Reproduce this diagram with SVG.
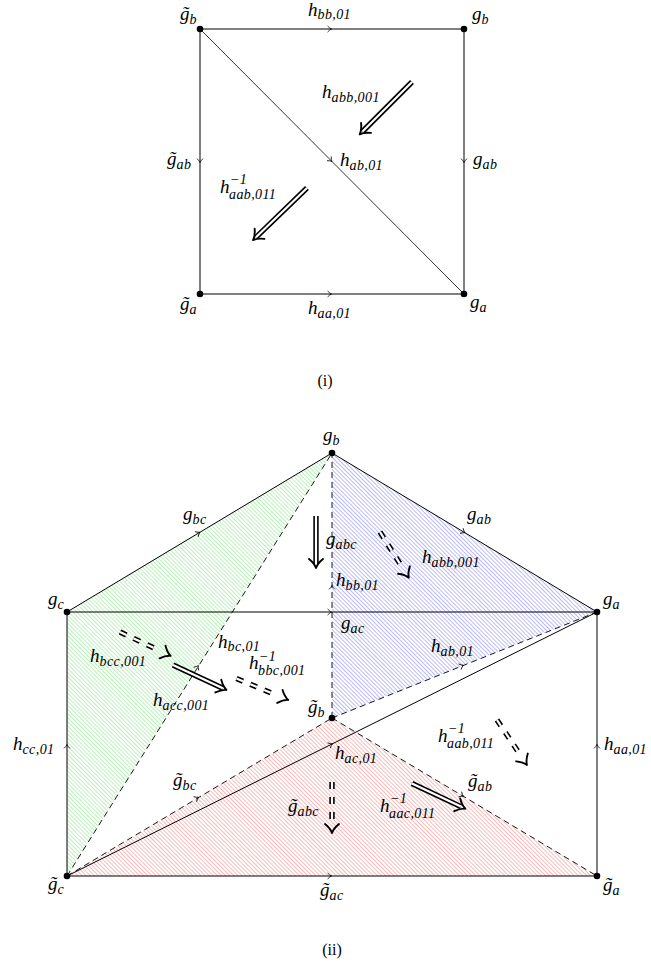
<svg xmlns="http://www.w3.org/2000/svg" width="651" height="972" viewBox="0 0 651 972">
<style>
.m{font-family:"Liberation Serif",serif;font-style:italic;font-size:19px;fill:#000}
.s{font-size:14px;letter-spacing:0.4px}
.cap{font-family:"Liberation Serif",serif;font-size:16px;fill:#000}
.e{stroke:#000;stroke-width:1;fill:none}
.d{stroke:#000;stroke-width:0.9;fill:none;stroke-dasharray:6,4}
.thin{stroke:#000;stroke-width:0.8;fill:none}
.dbo{stroke:#000;stroke-width:5.4;fill:none}
.dbi{stroke:#fff;stroke-width:2.2;fill:none}
.dbod{stroke:#000;stroke-width:5.4;fill:none;stroke-dasharray:7,8}
.dbid{stroke:#fff;stroke-width:2.2;fill:none;stroke-dasharray:7,8}
.hd{stroke:#000;stroke-width:1.9;fill:none;stroke-linecap:round;stroke-linejoin:round}
</style>
<defs>
<path id="tip" d="M-3.4,-3 Q-1.2,-0.6 0.6,0 Q-1.2,0.6 -3.4,3" fill="none" stroke="#000" stroke-width="0.8"/>
<pattern id="hg" width="2.9" height="10" patternUnits="userSpaceOnUse" patternTransform="rotate(-45)"><line x1="1.45" y1="0" x2="1.45" y2="10" stroke="#b4eeb4" stroke-width="0.9"/></pattern>
<pattern id="hb" width="2.9" height="10" patternUnits="userSpaceOnUse" patternTransform="rotate(-45)"><line x1="1.45" y1="0" x2="1.45" y2="10" stroke="#b4b4f2" stroke-width="0.9"/></pattern>
<pattern id="hr" width="2.9" height="10" patternUnits="userSpaceOnUse" patternTransform="rotate(-45)"><line x1="1.45" y1="0" x2="1.45" y2="10" stroke="#f4b4b4" stroke-width="0.9"/></pattern>
</defs>
<rect width="651" height="972" fill="#fff"/>

<!-- ===== Diagram (i) ===== -->
<g id="connectors-i">
<line class="e" x1="200" y1="29" x2="464" y2="29"/>
<use href="#tip" transform="translate(331,29)"/>
<text class="m" x="308" y="16">h<tspan class="s" dy="3">bb,01</tspan></text>
<line class="e" x1="200" y1="29" x2="200" y2="294"/>
<use href="#tip" transform="translate(200,162) rotate(90)"/>
<text class="m" x="167" y="165">g̃<tspan class="s" dy="4">ab</tspan></text>
<line class="e" x1="464" y1="29" x2="464" y2="294"/>
<use href="#tip" transform="translate(464,162) rotate(90)"/>
<text class="m" x="473" y="165">g<tspan class="s" dy="4">ab</tspan></text>
<line class="e" x1="200" y1="294" x2="464" y2="294"/>
<use href="#tip" transform="translate(331,294)"/>
<text class="m" x="308" y="314">h<tspan class="s" dy="4">aa,01</tspan></text>
<line class="thin" x1="200" y1="29" x2="464" y2="294"/>
<use href="#tip" transform="translate(331.5,161) rotate(45)"/>
<text class="m" x="340" y="166">h<tspan class="s" dy="4">ab,01</tspan></text>
</g>
<g id="cells-i">
<g transform="translate(412,82) rotate(135)">
<path class="dbo" d="M0,0 H70"/><path class="dbi" d="M0,0 H70"/>
<path class="hd" d="M65,-7 Q69.5,-1.5 74,0 Q69.5,1.5 65,7"/>
</g>
<text class="m" x="322" y="98">h<tspan class="s" dy="4">abb,001</tspan></text>
<g transform="translate(307,188) rotate(136)">
<path class="dbo" d="M0,0 H71"/><path class="dbi" d="M0,0 H71"/>
<path class="hd" d="M66,-7 Q70.5,-1.5 75,0 Q70.5,1.5 66,7"/>
</g>
<text class="m" x="220" y="193">h<tspan class="s" x="230" y="184">−1</tspan><tspan class="s" x="229" y="199">aab,011</tspan></text>
</g>
<g id="node-gbt-i"><circle cx="200" cy="29" r="3.3"/><text class="m" x="180" y="20">g̃<tspan class="s" dy="4">b</tspan></text></g>
<g id="node-gb-i"><circle cx="464" cy="29" r="3.3"/><text class="m" x="472" y="20">g<tspan class="s" dy="4">b</tspan></text></g>
<g id="node-gat-i"><circle cx="200" cy="294" r="3.3"/><text class="m" x="180" y="310">g̃<tspan class="s" dy="4">a</tspan></text></g>
<g id="node-ga-i"><circle cx="464" cy="294" r="3.3"/><text class="m" x="470" y="308">g<tspan class="s" dy="4">a</tspan></text></g>
<text class="cap" x="325" y="386" text-anchor="middle">(i)</text>

<!-- ===== Diagram (ii) ===== -->
<g id="faces">
<polygon points="67,612 332,453 67,876" fill="url(#hg)"/>
<polygon points="332,453 597,612 332,718" fill="url(#hb)"/>
<polygon points="67,876 332,718 597,876" fill="url(#hr)"/>
</g>
<g id="connectors-ii">
<line class="e" x1="67" y1="612" x2="332" y2="453"/>
<use href="#tip" transform="translate(199.5,532.5) rotate(-31)"/>
<text class="m" x="183" y="520">g<tspan class="s" dy="4">bc</tspan></text>
<line class="e" x1="332" y1="453" x2="597" y2="612"/>
<use href="#tip" transform="translate(464.5,532.5) rotate(31)"/>
<text class="m" x="467" y="520">g<tspan class="s" dy="4">ab</tspan></text>
<line class="e" x1="67" y1="612" x2="597" y2="612"/>
<use href="#tip" transform="translate(331,612)"/>
<text class="m" x="341" y="629">g<tspan class="s" dy="4">ac</tspan></text>
<line class="e" x1="67" y1="612" x2="67" y2="876"/>
<use href="#tip" transform="translate(67,745) rotate(-90)"/>
<text class="m" x="13" y="750">h<tspan class="s" dy="4">cc,01</tspan></text>
<line class="e" x1="597" y1="612" x2="597" y2="876"/>
<use href="#tip" transform="translate(597,745) rotate(-90)"/>
<text class="m" x="604" y="750">h<tspan class="s" dy="4">aa,01</tspan></text>
<line class="e" x1="67" y1="876" x2="597" y2="876"/>
<use href="#tip" transform="translate(331,876)"/>
<text class="m" x="320" y="896">g̃<tspan class="s" dy="4">ac</tspan></text>
<line class="d" x1="332" y1="718" x2="332" y2="453"/>
<use href="#tip" transform="translate(332,586) rotate(-90)"/>
<text class="m" x="336" y="586">h<tspan class="s" dy="4">bb,01</tspan></text>
<line class="d" x1="67" y1="876" x2="332" y2="453"/>
<use href="#tip" transform="translate(198,666) rotate(-58)"/>
<text class="m" x="218" y="648">h<tspan class="s" dy="3">bc,01</tspan></text>
<line class="d" x1="332" y1="718" x2="597" y2="612"/>
<use href="#tip" transform="translate(463,665.5) rotate(-21.8)"/>
<text class="m" x="431" y="652">h<tspan class="s" dy="4">ab,01</tspan></text>
<line class="e" x1="67" y1="876" x2="597" y2="612"/>
<use href="#tip" transform="translate(332,744) rotate(-26.5)"/>
<text class="m" x="335" y="759">h<tspan class="s" dy="4">ac,01</tspan></text>
<line class="d" x1="67" y1="876" x2="332" y2="718"/>
<use href="#tip" transform="translate(198,797.5) rotate(-30.8)"/>
<text class="m" x="173" y="786">g̃<tspan class="s" dy="4">bc</tspan></text>
<line class="d" x1="332" y1="718" x2="597" y2="876"/>
<use href="#tip" transform="translate(463,796) rotate(30.8)"/>
<text class="m" x="468" y="787">g̃<tspan class="s" dy="4">ab</tspan></text>
</g>
<g id="cells-ii">
<g transform="translate(316,516) rotate(90)">
<path class="dbo" d="M0,0 H48"/><path class="dbi" d="M0,0 H48"/>
<path class="hd" d="M43,-7 Q47.5,-1.5 52,0 Q47.5,1.5 43,7"/>
</g>
<text class="m" x="326" y="545">g<tspan class="s" dy="4">abc</tspan></text>
<g transform="translate(380,532) rotate(57.8)">
<path class="dbod" d="M0,0 H37"/><path class="dbid" d="M0,0 H37"/>
<path class="hd" d="M45,-7 Q49.5,-1.5 54,0 Q49.5,1.5 45,7"/>
</g>
<text class="m" x="422" y="563">h<tspan class="s" dy="4">abb,001</tspan></text>
<g transform="translate(120,632) rotate(25.2)">
<path class="dbod" d="M0,0 H37"/><path class="dbid" d="M0,0 H37"/>
<path class="hd" d="M47,-7 Q51.5,-1.5 56,0 Q51.5,1.5 47,7"/>
</g>
<text class="m" x="90" y="662">h<tspan class="s" dy="4">bcc,001</tspan></text>
<g transform="translate(173,665) rotate(25)">
<path class="dbo" d="M0,0 H55"/><path class="dbi" d="M0,0 H55"/>
<path class="hd" d="M50,-7 Q54.5,-1.5 59,0 Q54.5,1.5 50,7"/>
</g>
<text class="m" x="153" y="706">h<tspan class="s" dy="4">acc,001</tspan></text>
<g transform="translate(236.5,678.5) rotate(22.5)">
<path class="dbod" d="M0,0 H37"/><path class="dbid" d="M0,0 H37"/>
<path class="hd" d="M47,-7 Q51.5,-1.5 56,0 Q51.5,1.5 47,7"/>
</g>
<text class="m" x="249" y="669">h<tspan class="s" x="259" y="661">−1</tspan><tspan class="s" x="258" y="675">bbc,001</tspan></text>
<g transform="translate(332,782) rotate(90)">
<path class="dbod" d="M0,0 H37"/><path class="dbid" d="M0,0 H37"/>
<path class="hd" d="M42,-7 Q46.5,-1.5 51,0 Q46.5,1.5 42,7"/>
</g>
<text class="m" x="288" y="812">g̃<tspan class="s" dy="4">abc</tspan></text>
<g transform="translate(412,783.5) rotate(25.3)">
<path class="dbo" d="M0,0 H54"/><path class="dbi" d="M0,0 H54"/>
<path class="hd" d="M50,-7 Q54.5,-1.5 59,0 Q54.5,1.5 50,7"/>
</g>
<text class="m" x="380" y="812">h<tspan class="s" x="390" y="803">−1</tspan><tspan class="s" x="389" y="818">aac,011</tspan></text>
<g transform="translate(497,720) rotate(56.3)">
<path class="dbod" d="M0,0 H37"/><path class="dbid" d="M0,0 H37"/>
<path class="hd" d="M45,-7 Q49.5,-1.5 54,0 Q49.5,1.5 45,7"/>
</g>
<text class="m" x="438" y="742">h<tspan class="s" x="448" y="733">−1</tspan><tspan class="s" x="447" y="748">aab,011</tspan></text>
</g>
<g id="node-gb-ii"><circle cx="332" cy="453" r="3.3"/><text class="m" x="323" y="441">g<tspan class="s" dy="4">b</tspan></text></g>
<g id="node-gc-ii"><circle cx="67" cy="612" r="3.3"/><text class="m" x="48" y="605">g<tspan class="s" dy="4">c</tspan></text></g>
<g id="node-ga-ii"><circle cx="597" cy="612" r="3.3"/><text class="m" x="603" y="605">g<tspan class="s" dy="4">a</tspan></text></g>
<g id="node-gbt-ii"><circle cx="332" cy="718" r="3.3"/><text class="m" x="308" y="713">g̃<tspan class="s" dy="4">b</tspan></text></g>
<g id="node-gct-ii"><circle cx="67" cy="876" r="3.3"/><text class="m" x="48" y="890">g̃<tspan class="s" dy="4">c</tspan></text></g>
<g id="node-gat-ii"><circle cx="597" cy="876" r="3.3"/><text class="m" x="603" y="891">g̃<tspan class="s" dy="4">a</tspan></text></g>
<text class="cap" x="332" y="955" text-anchor="middle">(ii)</text>
</svg>
